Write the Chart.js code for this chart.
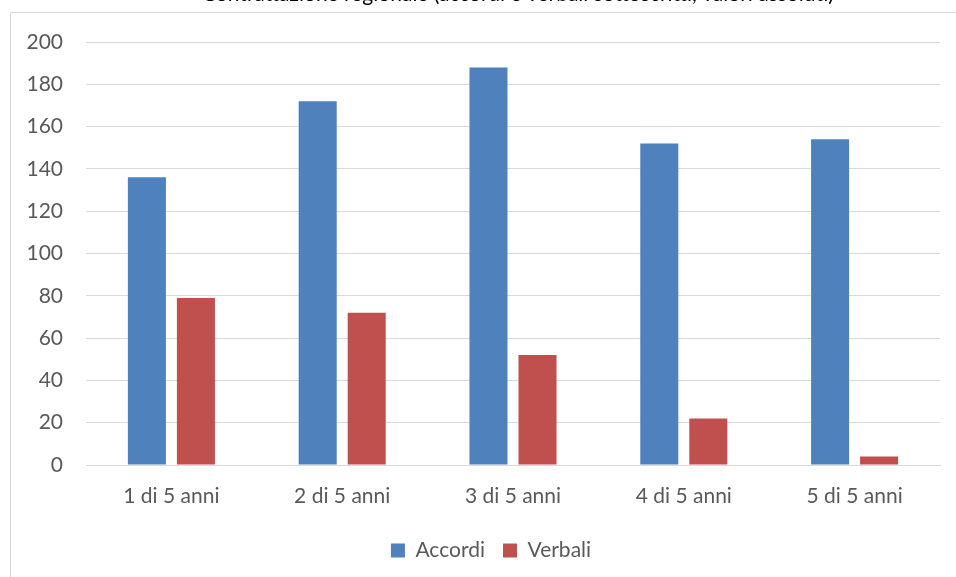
<!DOCTYPE html>
<html>
<head>
<meta charset="utf-8">
<script src="https://cdn.jsdelivr.net/npm/chart.js@4/dist/chart.umd.min.js"></script>
<style>
  html, body { margin: 0; padding: 0; background: #fff; overflow: hidden; }
  #wrap { width: 956px; height: 577px; position: relative; }
</style>
</head>
<body>
<div id="wrap"><canvas id="chart" width="956" height="577"></canvas></div>
<script>
const categories = ['1 di 5 anni', '2 di 5 anni', '3 di 5 anni', '4 di 5 anni', '5 di 5 anni'];
const accordi = [136, 172, 188, 152, 154];
const verbali = [79, 72, 52, 22, 4];
const yTicks = [0, 20, 40, 60, 80, 100, 120, 140, 160, 180, 200];
const titleText = 'Contrattazione regionale (accordi e verbali sottoscritti, valori assoluti)';

const textColor = '#595959';
const gridColor = '#d9d9d9';
const fontFamily = 'Lato, "Open Sans", sans-serif';

// title is clipped by the frame top in the reference, only descenders show
const clippedTitle = {
  id: 'clippedTitle',
  afterDraw(chart) {
    const ctx = chart.ctx;
    ctx.save();
    ctx.fillStyle = '#000';
    ctx.font = `21px ${fontFamily}`;
    ctx.textAlign = 'center';
    ctx.textBaseline = 'alphabetic';
    ctx.fillText(titleText, 518, 1);
    ctx.restore();
  },
};

const frame = {
  id: 'frame',
  beforeDraw(chart) {
    const ctx = chart.ctx;
    ctx.save();
    ctx.strokeStyle = gridColor;
    ctx.lineWidth = 1;
    ctx.beginPath();
    ctx.moveTo(10.5, chart.height);
    ctx.lineTo(10.5, 12.5);
    ctx.lineTo(chart.width, 12.5);
    ctx.stroke();
    ctx.restore();
  },
};

// legend sits a bit right of centre in the reference
const legendShift = {
  id: 'legendShift',
  afterLayout(chart) {
    chart.legend.left += 16;
    chart.legend.right += 16;
  },
};

new Chart(document.getElementById('chart'), {
  type: 'bar',
  data: {
    labels: categories,
    datasets: [
      {
        label: 'Accordi',
        data: accordi,
        backgroundColor: '#4f81bd',
        categoryPercentage: 0.574,
        barPercentage: 0.776,
      },
      {
        label: 'Verbali',
        data: verbali,
        backgroundColor: '#c0504d',
        categoryPercentage: 0.574,
        barPercentage: 0.776,
      },
    ],
  },
  options: {
    responsive: false,
    animation: false,
    layout: {
      padding: { left: 10, right: 16, top: 42, bottom: 6 },
    },
    plugins: {
      title: { display: false },
      tooltip: { enabled: false },
      legend: {
        position: 'bottom',
        labels: {
          color: textColor,
          font: { family: fontFamily, size: 21 },
          boxWidth: 14,
          boxHeight: 14,
          padding: 18,
        },
      },
    },
    scales: {
      x: {
        grid: { display: false, drawTicks: false },
        border: { display: true, color: gridColor, width: 1 },
        ticks: {
          color: textColor,
          font: { family: fontFamily, size: 21 },
          padding: 19,
          maxRotation: 0,
        },
        afterFit: (scale) => {
          scale.height = 57;
        },
      },
      y: {
        min: 0,
        max: 200,
        afterBuildTicks: (scale) => {
          scale.ticks = yTicks.map((value) => ({ value }));
        },
        grid: { color: gridColor, lineWidth: 1, drawTicks: false },
        border: { display: false },
        ticks: {
          color: textColor,
          font: { family: fontFamily, size: 21 },
          padding: 23,
        },
        afterFit: (scale) => {
          scale.width = 76;
        },
      },
    },
  },
  plugins: [frame, clippedTitle, legendShift],
});
</script>
</body>
</html>
